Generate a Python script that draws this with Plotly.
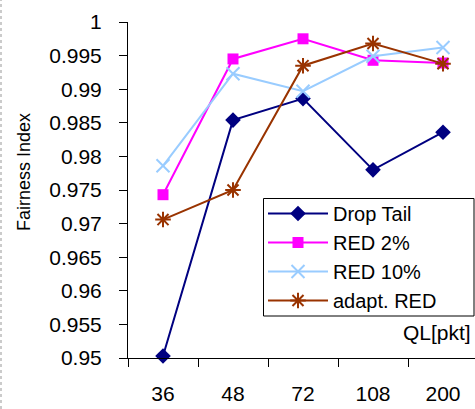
import plotly.graph_objects as go

categories = ["36", "48", "72", "108", "200"]
drop_tail = [0.9503, 0.9854, 0.9886, 0.9780, 0.9836]
red_2 = [0.9743, 0.9945, 0.9975, 0.9943, 0.9939]
red_10 = [0.9786, 0.9923, 0.9897, 0.9949, 0.9962]
adapt_red = [0.9706, 0.9750, 0.9935, 0.9968, 0.9938]
series_names = ["Drop Tail", "RED 2%", "RED 10%", "adapt. RED"]
y_ticks = [0.95, 0.955, 0.96, 0.965, 0.97, 0.975, 0.98, 0.985, 0.99, 0.995, 1.0]
y_tick_text = ["0.95", "0.955", "0.96", "0.965", "0.97", "0.975", "0.98", "0.985", "0.99", "0.995", "1"]

FONT = "Liberation Sans, Arial, sans-serif"
L, T, PW, PH = 128, 22, 347, 336


def px_x(p):
    return (p - L) / PW


def px_y(p):
    return 1 - (p - T) / PH


fig = go.Figure()
styles = [
    ("#000080", dict(symbol="diamond", size=12, color="#000080")),
    ("#FF00FF", dict(symbol="square", size=11, color="#FF00FF")),
    ("#99CCFF", dict(symbol="x-thin", size=13, color="#99CCFF", line=dict(width=2, color="#99CCFF"))),
    ("#993300", dict(symbol="asterisk", size=13, color="#993300", line=dict(width=2, color="#993300"))),
]
for name, vals, (col, mk) in zip(series_names, [drop_tail, red_2, red_10, adapt_red], styles):
    fig.add_trace(go.Scatter(
        x=categories, y=vals, name=name, mode="lines+markers",
        line=dict(color=col, width=2), marker=mk, cliponaxis=False,
    ))

fig.update_layout(
    width=475, height=409,
    margin=dict(l=L, r=0, t=T, b=51, autoexpand=False),
    paper_bgcolor="white", plot_bgcolor="white",
    font=dict(family=FONT, size=21, color="black"),
    showlegend=True,
    legend=dict(
        x=px_x(263), y=px_y(194), xanchor="left", yanchor="top",
        borderwidth=0, bgcolor="rgba(0,0,0,0)",
        font=dict(family=FONT, size=20, color="black"),
        tracegroupgap=0, itemwidth=60,
    ),
    xaxis=dict(
        type="category", range=[-0.5, 4.457], automargin=False,
        showline=True, linecolor="black", linewidth=1,
        ticks="outside", ticklen=8, tickcolor="black", tickson="boundaries",
        showgrid=False, zeroline=False, ticklabelstandoff=17,
        tickfont=dict(family=FONT, size=21),
    ),
    yaxis=dict(
        range=[0.95, 1.0], tickvals=y_ticks, ticktext=y_tick_text, automargin=False,
        showline=True, linecolor="black", linewidth=1,
        ticks="outside", ticklen=8, tickcolor="black",
        showgrid=False, zeroline=False, ticklabelstandoff=13,
        tickfont=dict(family=FONT, size=21),
    ),
    annotations=[
        dict(
            text="QL[pkt]", xref="paper", yref="paper",
            x=px_x(473), y=px_y(332),
            xanchor="right", yanchor="middle", showarrow=False,
            font=dict(family=FONT, size=21, color="black"),
        ),
        dict(
            text="Fairness Index", xref="paper", yref="paper", textangle=-90,
            x=px_x(24), y=px_y(172),
            xanchor="center", yanchor="middle", showarrow=False,
            font=dict(family=FONT, size=18, color="black"),
        ),
    ],
    shapes=[
        dict(
            type="line", xref="paper", yref="paper",
            x0=px_x(1), x1=px_x(1), y0=px_y(409), y1=px_y(0),
            line=dict(color="#BBBBBB", width=1.5, dash="dot"),
        ),
        dict(
            type="rect", xref="paper", yref="paper", layer="above",
            x0=px_x(263.5), x1=px_x(474), y0=px_y(316), y1=px_y(198.5),
            fillcolor="white", line=dict(color="black", width=1),
        ),
    ],
)

fig.write_html("out.html")
